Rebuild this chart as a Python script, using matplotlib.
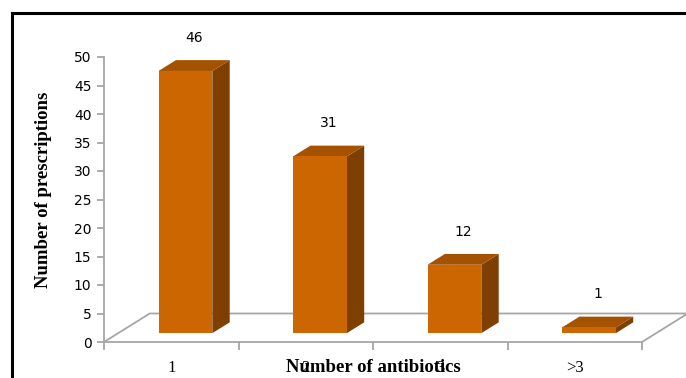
import matplotlib
matplotlib.use("Agg")
import matplotlib.pyplot as plt
from matplotlib.patches import Polygon
from matplotlib.lines import Line2D

categories = ["1", "2", "3", ">3"]
prescriptions = [46, 31, 12, 1]
y_ticks = list(range(0, 55, 5))

front_color = "#CC6600"
top_color = "#A45200"
side_color = "#7F3F00"
grid_gray = "#A6A6A6"

# oblique depth of the 3-D floor, in data units (category, value)
DX, DY = 0.34, 5.0
BAR_W = 0.40
F0, F1 = 0.31, 0.69   # bar front / back as fraction of floor depth

fig = plt.figure(figsize=(6.86, 3.78), dpi=100)
ax = fig.add_axes([104 / 686, 1 - 342 / 378, 538 / 686, 285 / 378])
ax.set_xlim(-0.5, len(categories) - 0.5)
ax.set_ylim(0, 50)

# floor
n = len(categories)
floor = Polygon([(-0.5, 0), (n - 0.5, 0), (n - 0.5 + DX, DY), (-0.5 + DX, DY)],
                closed=True, facecolor="white", edgecolor=grid_gray, lw=1.3,
                clip_on=False, zorder=1)
ax.add_patch(floor)

for i, v in enumerate(prescriptions):
    x0 = i - BAR_W / 2 + F0 * DX
    x1 = i + BAR_W / 2 + F0 * DX
    y0 = F0 * DY
    y1 = v + F0 * DY
    ddx, ddy = (F1 - F0) * DX, (F1 - F0) * DY
    front = Polygon([(x0, y0), (x1, y0), (x1, y1), (x0, y1)],
                    facecolor=front_color, edgecolor="none", zorder=3)
    top = Polygon([(x0, y1), (x1, y1), (x1 + ddx, y1 + ddy), (x0 + ddx, y1 + ddy)],
                  facecolor=top_color, edgecolor="none", zorder=3)
    side = Polygon([(x1, y0), (x1 + ddx, y0 + ddy), (x1 + ddx, y1 + ddy), (x1, y1)],
                   facecolor=side_color, edgecolor="none", zorder=3)
    for p in (side, top, front):
        p.set_clip_on(False)
        ax.add_patch(p)
    ax.annotate(str(v), xy=(i + ddx / 2 + F0 * DX, y1 + ddy), xytext=(0, 16),
                textcoords="offset points", ha="center", va="center",
                fontsize=10, color="black", annotation_clip=False)

for side_name in ("top", "right", "bottom"):
    ax.spines[side_name].set_visible(False)
ax.spines["left"].set_color(grid_gray)
ax.spines["left"].set_linewidth(1.3)

ax.set_yticks(y_ticks)
ax.tick_params(axis="y", colors=grid_gray, length=5, width=1.3, labelcolor="black",
               labelsize=10, pad=4)

ax.set_xticks(range(n))
ax.set_xticklabels(categories, fontfamily="Liberation Serif", fontsize=12)
ax.set_xticks([k - 0.5 for k in range(n + 1)], minor=True)
ax.tick_params(axis="x", which="major", length=0, pad=13)
ax.tick_params(axis="x", which="minor", length=6, width=1.3, color=grid_gray)
ax.xaxis.set_ticks_position("bottom")

ax.set_xlabel("Number of antibiotics", fontfamily="Liberation Serif",
              fontweight="bold", fontsize=13.5)
ax.xaxis.set_label_coords(0.5, -26 / 285)
ax.xaxis.label.set_va("center")
ax.set_ylabel("Number of prescriptions", fontfamily="Liberation Serif",
              fontweight="bold", fontsize=13.5)
ax.yaxis.set_label_coords(-60 / 538, 0.533)
ax.yaxis.label.set_va("center")

# black frame along the top and left
fig.add_artist(Line2D([11.5 / 686, 1], [1 - 12.5 / 378] * 2, color="black", lw=2.2,
                      transform=fig.transFigure))
fig.add_artist(Line2D([11.5 / 686] * 2, [0, 1 - 12.5 / 378], color="black", lw=2.2,
                      transform=fig.transFigure))

fig.savefig("out.png", dpi=100)
